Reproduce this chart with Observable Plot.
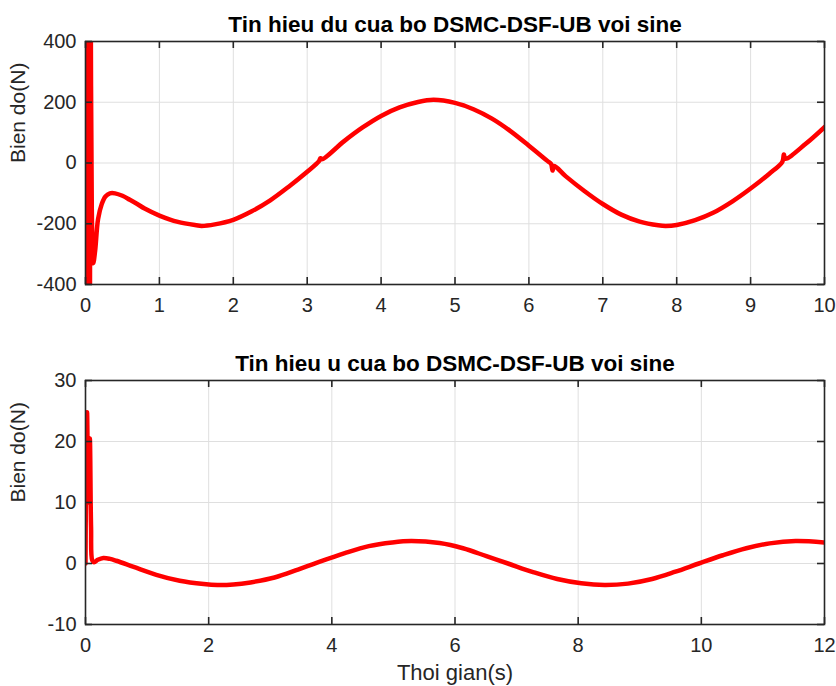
<!DOCTYPE html>
<html>
<head>
<meta charset="utf-8">
<script src="https://cdn.jsdelivr.net/npm/d3@7"></script>
<script src="https://cdn.jsdelivr.net/npm/@observablehq/plot@0.6"></script>
<style>
  body { margin: 0; background: #fff; }
  #chart svg { display: block; }
</style>
</head>
<body>
<div id="chart"></div>
<script>
// Text
const titleTop = "Tin hieu du cua bo DSMC-DSF-UB voi sine";
const titleBottom = "Tin hieu u cua bo DSMC-DSF-UB voi sine";
const yLabel = "Bien do(N)";
const xLabel = "Thoi gian(s)";

// Disturbance signal (du), time in seconds
const duTime = [0, 0.008, 0.018, 0.028, 0.038, 0.048, 0.058, 0.068, 0.085, 0.105, 0.13, 0.17, 0.22, 0.27, 0.33, 0.4, 0.5, 0.6, 0.7, 0.8,
  1.0, 1.25, 1.5, 1.57, 1.75, 2.0, 2.25, 2.5, 2.75, 3.0, 3.16, 3.18, 3.2, 3.5, 3.75, 4.0, 4.25, 4.5, 4.71,
  5.0, 5.25, 5.5, 5.75, 6.0, 6.25, 6.3, 6.32, 6.34, 6.5, 6.75, 7.0, 7.25, 7.5, 7.75, 7.85, 8.0, 8.25, 8.5,
  8.75, 9.0, 9.25, 9.43, 9.45, 9.47, 9.75, 10.0];
const duValue = [0, 1400, -1400, 1300, -1300, 1100, -1000, 700, -150, -330, -290, -185, -135, -110, -100, -100, -108, -121, -135, -150,
  -173, -194, -205, -207, -202, -187, -159, -123, -78, -29, 6, 16, 12, 72, 117, 155, 183, 201, 208,
  198, 177, 146, 105, 57, 7, -3, -25, -10, -44, -92, -135, -170, -193, -205, -207, -204, -188, -163,
  -127, -84, -36, 4, 28, 14, 64, 118];

// Control signal (u), time in seconds
const uTime = [0, 0.012, 0.025, 0.045, 0.07, 0.09, 0.11, 0.14, 0.2, 0.29, 0.4, 0.5, 0.77, 1.15, 1.53, 1.92, 2.14,
  2.4, 2.68, 3.07, 3.45, 3.75, 4.21, 4.6, 4.98, 5.29, 5.75, 6.13, 6.51, 6.86, 7.28, 7.66, 8.05, 8.43, 8.81,
  9.2, 9.58, 9.96, 10.35, 10.73, 11.11, 11.53, 12];
const uValue = [0, 18, 24.8, 10, 20.5, 6, 0.5, 0.2, 0.6, 0.9, 0.75, 0.45, -0.5, -1.85, -2.83, -3.37, -3.53,
  -3.45, -3.1, -2.3, -1.0, 0.1, 1.7, 2.85, 3.45, 3.68, 3.35, 2.5, 1.2, 0, -1.45, -2.55, -3.25, -3.53, -3.3,
  -2.55, -1.35, 0, 1.35, 2.5, 3.3, 3.68, 3.45];

// Axis ticks
const duXTicks = [0, 1, 2, 3, 4, 5, 6, 7, 8, 9, 10];
const duYTicks = [-400, -200, 0, 200, 400];
const uXTicks = [0, 2, 4, 6, 8, 10, 12];
const uYTicks = [-10, 0, 10, 20, 30];

const W = 836, ML = 85, MR = 12;
const FW = W - ML - MR;
const ink = "#262626";
const gridColor = "#dfdfdf";
const font = "'Liberation Sans', Arial, Helvetica, sans-serif";
const fmt = d => String(d);

function panel({time, value, xDomain, yDomain, xTicks, yTicks, title, xLab, height, marginTop, marginBottom}) {
  const H = height - marginTop - marginBottom;
  const data = time.map((t, i) => ({t, v: value[i]}));
  const tick = 7;
  const marks = [
    Plot.gridX(xTicks, {stroke: gridColor, strokeOpacity: 1, strokeWidth: 1}),
    Plot.gridY(yTicks, {stroke: gridColor, strokeOpacity: 1, strokeWidth: 1}),
    Plot.line(data, {x: "t", y: "v", stroke: "#ff0000", strokeWidth: 4.5, curve: "catmull-rom", clip: true}),
    Plot.frame({stroke: ink, strokeWidth: 1.6}),
    Plot.tickX(xTicks, {x: d => d, stroke: ink, strokeWidth: 1.6, insetBottom: H - tick}),
    Plot.tickX(xTicks, {x: d => d, stroke: ink, strokeWidth: 1.6, insetTop: H - tick}),
    Plot.tickY(yTicks, {y: d => d, stroke: ink, strokeWidth: 1.6, insetRight: FW - tick}),
    Plot.tickY(yTicks, {y: d => d, stroke: ink, strokeWidth: 1.6, insetLeft: FW - tick}),
    Plot.axisX(xTicks, {tickSize: 0, tickPadding: 13, fontSize: 20, tickFormat: fmt, label: null}),
    Plot.axisY(yTicks, {tickSize: 0, tickPadding: 9, fontSize: 20, tickFormat: fmt, label: null}),
    Plot.text([title], {text: d => d, frameAnchor: "top", dy: -25, fontSize: 22.5, fontWeight: "bold", fill: "#000"}),
    Plot.text([yLabel], {text: d => d, frameAnchor: "left", rotate: -90, dx: -67, fontSize: 21, fill: ink})
  ];
  if (xLab) {
    marks.push(Plot.text([xLab], {text: d => d, frameAnchor: "bottom", dy: 55, fontSize: 22, fill: ink}));
  }
  return Plot.plot({
    width: W,
    height,
    marginLeft: ML,
    marginRight: MR,
    marginTop,
    marginBottom,
    style: {fontFamily: font, color: ink, background: "#fff", overflow: "visible"},
    x: {domain: xDomain},
    y: {domain: yDomain},
    marks
  });
}

const chart = document.getElementById("chart");
chart.append(panel({
  time: duTime, value: duValue, xDomain: [0, 10], yDomain: [-400, 400],
  xTicks: duXTicks, yTicks: duYTicks, title: titleTop, xLab: null,
  height: 335, marginTop: 41, marginBottom: 51
}));
chart.append(panel({
  time: uTime, value: uValue, xDomain: [0, 12], yDomain: [-10, 30],
  xTicks: uXTicks, yTicks: uYTicks, title: titleBottom, xLab: xLabel,
  height: 351, marginTop: 45, marginBottom: 62
}));
</script>
</body>
</html>
